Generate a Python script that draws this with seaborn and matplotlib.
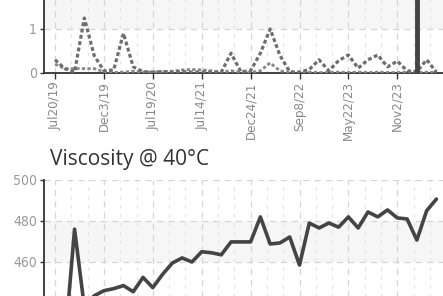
import numpy as np
import seaborn as sns
import matplotlib.pyplot as plt
from matplotlib.ticker import MultipleLocator

# sample index on a categorical date axis, labels shown every 5 samples
sample = np.arange(40)
tick_idx = [0, 5, 10, 15, 20, 25, 30, 35]
tick_labels = ["Jul20/19", "Dec3/19", "Jul19/20", "Jul14/21",
               "Dec24/21", "Sep8/22", "May22/23", "Nov2/23"]

# upper chart (only the lower part is visible)
trend_a = [0.30, 0.10, 0.02, 1.25, 0.40, 0.05, 0.07, 0.90, 0.14, 0.03,
           0.02, 0.03, 0.02, 0.03, 0.02, 0.02, 0.02, 0.02, 0.45, 0.03,
           0.05, 0.45, 1.00, 0.40, 0.03, 0.02, 0.08, 0.30, 0.05, 0.28,
           0.41, 0.11, 0.30, 0.41, 0.14, 0.27, 0.05, 0.03, 0.30, 0.02]
trend_b = [0.20, 0.10, 0.10, 0.10, 0.10, 0.03, 0.01, 0.02, 0.04, 0.02,
           0.02, 0.03, 0.04, 0.07, 0.08, 0.07, 0.05, 0.02, 0.05, 0.02,
           0.01, 0.05, 0.23, 0.05, 0.01, 0.01, 0.02, 0.01, 0.01, 0.02,
           0.01, 0.02, 0.01, 0.02, 0.01, 0.01, 0.02, 0.01, 0.02, 0.01]
spike_idx = [37]
spike_val = [6.0]
upper_ticks = [0, 1]

# viscosity @ 40C
viscosity = [436, 420, 476, 438, 443.5, 446, 447, 448.5, 445.5, 452.5,
             447.5, 454, 459.5, 462, 460, 465, 464.5, 463.5, 469.8, 469.8,
             469.8, 482, 468.8, 469.3, 472.2, 458.5, 479, 476.6, 479, 477,
             482, 476.6, 484.4, 482, 485.4, 481.5, 481, 470.7, 485, 490.7]
visc_ticks = [460, 480, 500]

sns.set_style("white")
plt.rcParams['font.family'] = ['DejaVu Sans']
plt.rcParams['font.stretch'] = 'condensed'

W, H = 443, 296
fig = plt.figure(figsize=(W / 100, H / 100), dpi=100)


def px_axes(left, top, right, bottom):
    return fig.add_axes([left / W, 1 - bottom / H, (right - left) / W, (bottom - top) / H])


step = 9.78
x0 = 55
left_px, right_px = 44, 470
xlim = ((left_px - x0) / step, (right_px - x0) / step)


def style(ax, ylim, yticks, bands):
    ax.set_xlim(*xlim)
    ax.set_ylim(*ylim)
    for lo, hi in bands:
        ax.axhspan(lo, hi, color='#f6f6f6', zorder=0, lw=0)
    ax.set_yticks(yticks)
    ax.set_xticks(tick_idx)
    ax.xaxis.set_minor_locator(MultipleLocator(5 / 3))
    ax.grid(True, which='major', axis='both', color='#d6d6d6', ls=(0, (5, 4)), lw=0.9)
    ax.grid(True, which='minor', axis='x', color='#e2e2e2', ls=(0, (3, 5)), lw=0.8)
    ax.set_axisbelow(True)
    for s in ['top', 'right']:
        ax.spines[s].set_visible(False)
    for s in ['left', 'bottom']:
        ax.spines[s].set_color('#333333')
        ax.spines[s].set_linewidth(1.3)
    ax.tick_params(axis='y', which='major', length=3, width=1, color='#333333',
                   labelsize=10, labelcolor='#999999', pad=2, left=True)
    ax.tick_params(axis='x', which='major', length=4, width=1, color='#333333',
                   labelsize=9.5, labelcolor='#888888', pad=2, bottom=True)
    ax.tick_params(axis='x', which='minor', length=0)
    ax.set_xlabel('')
    ax.set_ylabel('')


# upper chart
ax1 = px_axes(left_px, 73 - 88, right_px, 73)
sns.lineplot(x=sample, y=trend_b, ax=ax1, color='#888888', lw=2.0,
             linestyle=(0, (1.2, 0.8)), zorder=3)
sns.lineplot(x=sample, y=trend_a, ax=ax1, color='#6e6e6e', lw=2.3,
             linestyle=(0, (1.2, 0.8)), zorder=4)
ax1.vlines(spike_idx, 0, spike_val, color='#444444', lw=3.5, zorder=5)
style(ax1, (0, 2), upper_ticks, [(1, 2)])
ax1.set_xticklabels(tick_labels, rotation=90, va='top')

# viscosity chart
ax2 = px_axes(left_px, 180, right_px, 344)
sns.lineplot(x=sample, y=viscosity, ax=ax2, color='#444444', lw=2.6, zorder=4)
style(ax2, (420, 500), visc_ticks, [(460, 480), (420, 440)])
ax2.set_xticklabels([])

fig.text(50 / W, 1 - 165 / H, "Viscosity @ 40°C", fontsize=15, color='#333333',
         family=['Open Sans', 'DejaVu Sans'], stretch='normal',
         va='baseline', ha='left')

fig.savefig('out.png', dpi=100)
